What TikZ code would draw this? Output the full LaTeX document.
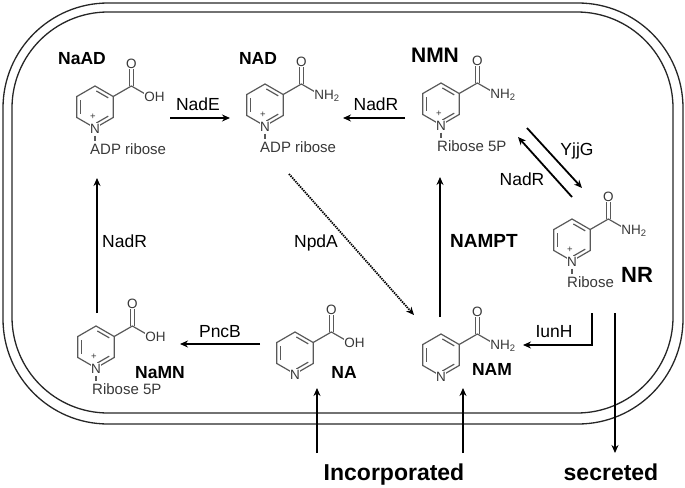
\documentclass[tikz,border=0pt]{standalone}
\usepackage{fontspec}
\setmainfont{Liberation Sans}
\usetikzlibrary{arrows.meta}
\definecolor{bondgrey}{gray}{0.35}
\definecolor{atomgrey}{gray}{0.22}

\tikzset{
  wall/.style={draw=black!85, line width=1.3pt},
  bond/.style={draw=bondgrey, line width=1.2pt},
  atom/.style={font=\fontsize{13.5}{15}\selectfont, text=atomgrey, fill=white, inner sep=0.6pt},
  grp/.style={font=\fontsize{15}{17}\selectfont, text=atomgrey, anchor=base west, inner sep=0pt},
  enz/.style={font=\fontsize{17.5}{20}\selectfont, anchor=base, inner sep=0pt},
  cpd/.style={font=\bfseries\fontsize{17.5}{20}\selectfont, anchor=base, inner sep=0pt},
  rxn/.style={->, line width=1.8pt},
}

% pyridine ring, group on C3
\newcommand{\ringcore}[3]{%
  \begin{scope}[shift={#2}]
    \coordinate (#1) at (0,0);
    \draw[bond] (0,-21) -- (18.19,-10.5) -- (18.19,10.5) -- (0,21)
      -- (-18.19,10.5) -- (-18.19,-10.5) -- cycle;
    \draw[bond, shorten <=1.5pt, shorten >=1.5pt] (0,-16.8) -- (14.55,-8.4);
    \draw[bond, shorten <=1.5pt, shorten >=1.5pt] (14.55,8.4) -- (0,16.8);
    \draw[bond, shorten <=1.5pt, shorten >=1.5pt] (-14.55,8.4) -- (-14.55,-8.4);
    \draw[bond] (18.19,-10.5) -- (36.37,-21) -- (54.56,-10.5);
    \draw[bond] (34.6,-21) -- (34.6,-40) (38.1,-21) -- (38.1,-40);
    \node[atom] (#1-o) at (36.37,-43) {O};
    \node[atom, anchor=base west] (#1-x) at (48.6,-5.7) {#3};
    \node[atom] (#1-n) at (0,21.5) {N};
  \end{scope}}

% N+ with its sugar below
\newcommand{\pyridinium}[5]{%
  \ringcore{#1}{#2}{#3}
  \begin{scope}[shift={#2}]
    \node[font=\fontsize{9.5}{10}\selectfont, text=atomgrey, inner sep=0pt] (#1-plus) at (-2,9.5) {+};
    \draw[bond] (0,28.5) -- (0,34);
    \node[grp] (#1-sub) at (#5,47.5) {#4};
  \end{scope}}

\begin{document}
\begin{tikzpicture}[x=1pt, y=-1pt, >={Stealth[length=8pt,width=7pt]}]
  \useasboundingbox (0,0) rectangle (685,487);
  % cell envelope
  \draw[wall, rounded corners=105pt] (3,3) rectangle (683,424);
  \draw[wall, rounded corners=96pt] (12,12) rectangle (673,413);

  % compounds
  \pyridinium{naad}{(95,107)}{OH}{ADP ribose}{-5}
  \pyridinium{nad}{(265,105)}{NH\textsubscript{2}}{ADP ribose}{-5}
  \pyridinium{nmn}{(441,104)}{NH\textsubscript{2}}{Ribose 5P}{-4}
  \pyridinium{nr}{(572,240)}{NH\textsubscript{2}}{Ribose}{-5}
  \pyridinium{namn}{(96,347)}{OH}{Ribose 5P}{-4}
  \ringcore{na}{(295,353)}{OH}
  \ringcore{nam}{(441,355)}{NH\textsubscript{2}}

  \node[cpd] (naad-name) at (82,65) {NaAD};
  \node[cpd] (nad-name) at (258,65) {NAD};
  \node[cpd, font=\bfseries\fontsize{21}{24}\selectfont] (nmn-name) at (435,63) {NMN};
  \node[cpd, font=\bfseries\fontsize{22}{25}\selectfont] (nr-name) at (637,282) {NR};
  \node[cpd] (namn-name) at (160,378) {NaMN};
  \node[cpd] (na-name) at (344,378) {NA};
  \node[cpd] (nam-name) at (492,375) {NAM};

  % arrow ends
  \coordinate (nade-a) at (170,118);   \coordinate (nade-b) at (230,118);
  \coordinate (nadr1-a) at (405,118);  \coordinate (nadr1-b) at (343,118);
  \coordinate (nadr2-a) at (97,313);   \coordinate (nadr2-b) at (97,178);
  \coordinate (pncb-a) at (260,344);   \coordinate (pncb-b) at (180,344);
  \coordinate (nampt-a) at (440,317);  \coordinate (nampt-b) at (440,177);
  \coordinate (npda-a) at (289,174);   \coordinate (npda-b) at (414,315);
  \coordinate (yjjg-a) at (527,128);   \coordinate (yjjg-b) at (582,188);
  \coordinate (nadr3-a) at (572,197);  \coordinate (nadr3-b) at (518,137);
  \coordinate (iunh-a) at (592,313);   \coordinate (iunh-b) at (523,345);
  \coordinate (sec-a) at (615,313);    \coordinate (sec-b) at (615,453);
  \coordinate (inc1-a) at (317,453);   \coordinate (inc1-b) at (317,388);
  \coordinate (inc2-a) at (463,453);   \coordinate (inc2-b) at (463,388);

  \draw[rxn] (nade-a) -- (nade-b);
  \draw[rxn] (nadr1-a) -- (nadr1-b);
  \draw[rxn] (nadr2-a) -- (nadr2-b);
  \draw[rxn] (pncb-a) -- (pncb-b);
  \draw[rxn] (nampt-a) -- (nampt-b);
  \draw[rxn, dash pattern=on 1.4pt off 1pt] (npda-a) -- (npda-b);
  \draw[rxn] (yjjg-a) -- (yjjg-b);
  \draw[rxn] (nadr3-a) -- (nadr3-b);
  \draw[rxn] (iunh-a) |- (iunh-b);
  \draw[rxn] (sec-a) -- (sec-b);
  \draw[rxn] (inc1-a) -- (inc1-b);
  \draw[rxn] (inc2-a) -- (inc2-b);

  % enzymes
  \node[enz] (nade) at (198,110) {NadE};
  \node[enz] (nadr1) at (376,110) {NadR};
  \node[enz, anchor=base west] (nadr2) at (102,247) {NadR};
  \node[enz] (pncb) at (220,337) {PncB};
  \node[cpd, anchor=base west, font=\bfseries\fontsize{19}{22}\selectfont] (nampt) at (450,247) {NAMPT};
  \node[enz] (npda) at (316,247) {NpdA};
  \node[enz] (yjjg) at (577,155) {YjjG};
  \node[enz] (nadr3) at (522,185) {NadR};
  \node[enz] (iunh) at (554,337) {IunH};

  \node[cpd, font=\bfseries\fontsize{23}{26}\selectfont] (inc) at (394,480) {Incorporated};
  \node[cpd, font=\bfseries\fontsize{23}{26}\selectfont] (sec) at (611,480) {secreted};
\end{tikzpicture}
\end{document}
